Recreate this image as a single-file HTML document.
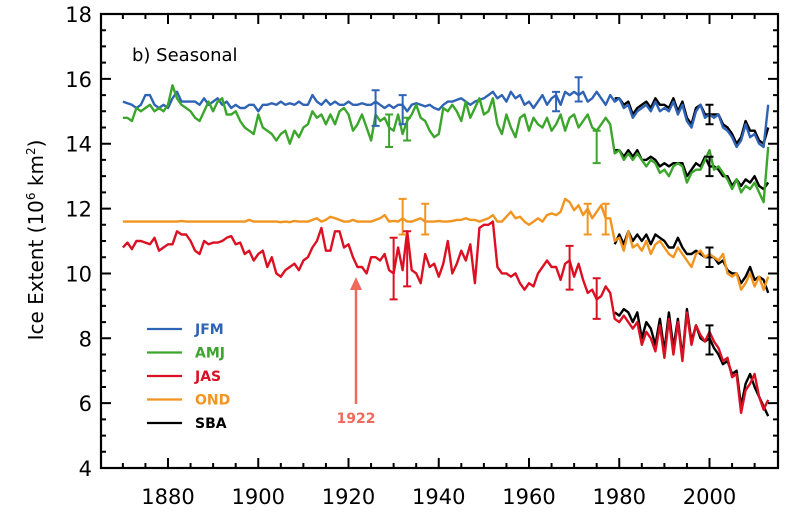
<!DOCTYPE html>
<html><head><meta charset="utf-8"><style>
body{margin:0;background:#fff;}
svg text{font-family:"DejaVu Sans","Liberation Sans",sans-serif;}
</style></head><body>
<svg id="chart" width="800" height="524" xmlns="http://www.w3.org/2000/svg">
<g id="plot"></g>
</svg>
<script>
const years=[];for(let y=1870;y<=2013;y++)years.push(y);
const sbaYears=[];for(let y=1979;y<=2013;y++)sbaYears.push(y);
const jfm=[15.3,15.25,15.2,15.1,15.2,15.5,15.5,15.2,15.1,15.2,
15.1,15.4,15.6,15.3,15.3,15.3,15.3,15.2,15.4,15.2,
15.3,15.4,15.2,15.3,15.1,15.2,15.1,15.1,15.2,15.2,
15.0,15.2,15.2,15.25,15.2,15.3,15.2,15.25,15.2,15.3,
15.2,15.2,15.5,15.3,15.2,15.35,15.2,15.3,15.2,15.2,
15.3,15.2,15.2,15.25,15.2,15.2,15.3,15.2,15.1,15.2,
15.1,15.2,15.2,15.0,15.2,15.25,15.2,15.15,15.2,15.1,
15.05,15.2,15.3,15.3,15.35,15.4,15.3,15.2,15.3,15.35,
15.4,15.5,15.6,15.4,15.5,15.3,15.6,15.4,15.5,15.2,
15.3,15.1,15.3,15.5,15.2,15.4,15.5,15.2,15.6,15.5,
15.6,15.5,15.6,15.3,15.4,15.6,15.4,15.2,15.5,15.3,
15.4,15.1,15.2,14.8,15.0,15.1,15.2,15.0,15.3,15.0,
15.1,15.0,15.3,14.9,15.2,14.7,14.5,15.0,15.2,14.8,
14.9,14.8,14.9,14.5,14.4,14.2,13.9,14.1,14.6,14.2,
14.3,14.0,13.9,15.2];
const amj=[14.8,14.8,14.7,15.1,15.0,15.1,15.2,15.0,15.1,15.0,
15.2,15.8,15.4,15.2,15.1,15.0,14.8,14.7,15.0,15.3,
15.0,15.3,15.4,14.9,14.9,15.0,14.7,14.5,14.4,14.3,
14.9,14.5,14.4,14.3,14.1,14.3,14.4,14.0,14.4,14.2,
14.5,14.6,15.0,14.8,14.9,14.6,14.9,14.6,15.0,15.1,
14.9,14.4,14.6,14.9,14.5,14.1,14.9,14.7,14.8,14.5,
14.4,14.9,14.3,14.7,14.9,15.2,14.8,14.7,14.4,14.2,
14.3,15.1,15.0,15.2,15.0,14.7,15.3,14.8,15.1,15.4,
14.9,15.0,15.4,14.6,14.3,14.9,14.5,14.2,14.8,14.9,
14.4,14.8,14.6,14.5,14.8,14.4,14.6,14.9,14.4,14.8,
14.9,14.5,14.7,14.9,14.5,14.4,14.6,14.8,14.6,13.7,
13.8,13.5,13.7,13.5,13.7,13.5,13.3,13.5,13.4,13.1,
13.2,13.0,13.3,13.4,13.3,12.8,13.1,13.2,13.2,13.5,
13.8,13.2,13.3,13.1,12.9,12.6,12.9,12.5,12.7,12.6,
12.8,12.5,12.2,13.9];
const jas=[10.8,10.95,10.75,11.0,11.0,10.95,10.9,11.1,10.7,10.8,
10.9,10.9,11.3,11.2,11.2,11.0,10.7,10.6,11.0,10.9,
10.95,10.95,11.0,11.1,11.15,10.9,10.95,10.6,10.7,10.4,
10.6,10.7,10.2,10.5,10.0,9.9,10.1,10.2,10.3,10.1,
10.4,10.5,10.8,11.0,11.4,10.7,10.7,11.3,11.3,10.8,
10.9,10.5,10.2,10.2,10.0,10.5,10.5,10.4,10.6,10.1,
10.0,10.8,10.1,11.3,10.1,10.0,9.7,10.6,10.2,10.3,
9.9,10.3,11.0,10.0,10.3,10.7,10.4,10.9,9.7,11.4,
11.5,11.5,11.6,10.2,10.0,10.0,9.9,10.0,9.7,9.5,
9.7,9.6,10.0,10.2,10.4,10.2,10.2,9.8,10.3,10.4,
9.9,10.3,9.8,9.4,9.5,9.2,9.3,9.6,9.4,8.6,
8.5,8.7,8.5,8.3,8.5,7.8,8.2,8.0,7.6,8.4,
7.4,8.6,7.5,8.5,7.3,8.8,7.8,8.4,8.1,7.9,
8.2,7.9,7.7,7.3,7.4,6.8,6.9,5.7,6.4,6.6,
6.9,6.2,5.8,6.1];
const ond=[11.6,11.6,11.6,11.6,11.6,11.6,11.6,11.6,11.6,11.6,
11.6,11.6,11.6,11.62,11.6,11.6,11.6,11.6,11.6,11.6,
11.6,11.6,11.6,11.6,11.6,11.6,11.6,11.6,11.65,11.6,
11.6,11.6,11.6,11.6,11.6,11.58,11.6,11.58,11.62,11.6,
11.6,11.6,11.65,11.7,11.6,11.65,11.75,11.7,11.65,11.6,
11.6,11.65,11.6,11.6,11.6,11.6,11.65,11.7,11.8,11.6,
11.62,11.6,11.7,11.6,11.6,11.65,11.7,11.6,11.6,11.6,
11.62,11.6,11.6,11.62,11.65,11.65,11.7,11.65,11.65,11.6,
11.65,11.7,11.8,11.6,11.6,11.75,11.9,11.7,11.75,11.6,
11.5,11.6,11.7,11.6,11.8,11.85,11.8,11.9,12.3,12.2,
11.95,12.1,11.8,12.0,11.7,11.9,12.1,11.7,11.7,11.0,
11.1,10.7,11.3,10.8,10.9,10.7,11.0,10.6,10.9,11.0,
10.8,10.6,10.5,10.8,10.6,10.4,10.2,10.6,10.7,10.5,
10.6,10.5,10.4,10.6,10.0,9.9,10.0,9.5,9.7,10.0,
9.6,9.9,9.5,9.9];
const sbaJfm=[15.4,15.4,15.2,15.3,14.9,15.1,15.2,15.3,15.1,15.4,15.2,15.2,15.1,15.4,15.0,15.3,14.8,14.6,15.1,15.2,14.9,14.9,14.9,14.9,14.6,14.5,14.3,14.0,14.2,14.7,14.4,14.4,14.1,14.0,14.5];
const sbaAmj=[13.8,13.8,13.6,13.8,13.6,13.8,13.5,13.5,13.6,13.5,13.3,13.4,13.3,13.4,13.4,13.4,13.0,13.2,13.4,13.3,13.6,13.3,13.3,13.2,13.0,13.0,12.7,12.9,12.7,12.9,12.8,13.0,12.7,12.6,12.8];
const sbaOnd=[10.9,11.2,10.9,11.3,11.0,11.2,11.0,11.2,10.9,11.2,11.1,11.0,10.8,10.8,11.1,10.8,10.6,10.6,10.7,10.6,10.5,10.5,10.5,10.3,10.4,10.1,10.0,10.0,9.7,9.9,10.2,9.8,9.9,9.8,9.4];
const sbaJas=[8.8,8.7,8.9,8.8,8.5,8.8,8.0,8.5,8.3,7.8,8.6,7.6,8.8,7.7,8.6,7.4,8.9,7.9,8.4,8.0,7.9,8.0,7.7,7.5,7.2,7.3,6.9,7.0,5.9,6.6,6.9,6.5,6.2,5.9,5.6];
const errYears=[1926,1932,1966,1971,1929,1933,1975,1932,1937,1973,1977,1930,1933,1969,1975,2000,2000,2000,2000];
const errLo=[14.55,14.6,15.0,15.3,13.9,14.1,13.4,11.2,11.2,11.2,11.2,9.2,9.6,9.5,8.6,14.6,13.0,10.2,7.5];
const errHi=[15.65,15.5,15.6,16.05,14.9,14.8,14.4,12.3,12.15,12.15,12.15,11.1,11.3,10.85,9.85,15.2,13.6,10.8,8.4];
const errSeries=["jfm","jfm","jfm","jfm","amj","amj","amj","ond","ond","ond","ond","jas","jas","jas","jas","sba","sba","sba","sba"];
const yTicks=[4,6,8,10,12,14,16,18];
const xTicks=[1880,1900,1920,1940,1960,1980,2000];
const legendLabels=["JFM","AMJ","JAS","OND","SBA"];

const C={jfm:"#2f63b6",amj:"#3ba52c",jas:"#dc1023",ond:"#f29420",sba:"#000"};
const L=101,R=778,T=14,B=468;
const X=y=>168+(y-1880)*90.25/20;
const Y=v=>14+(18-v)*32.43;
const NS="http://www.w3.org/2000/svg";
const svg=document.getElementById('chart');
function mk(tag,attrs,parent){const e=document.createElementNS(NS,tag);for(const k in attrs)e.setAttribute(k,attrs[k]);(parent||svg).appendChild(e);return e;}
function line(xs,vs,col,name){
  const d=xs.map((x,i)=>(i?'L':'M')+X(x).toFixed(1)+','+Y(vs[i]).toFixed(1)).join('');
  const p=mk('path',{d:d,fill:'none',stroke:col,'stroke-width':2.4,'stroke-linejoin':'round'});
  
  
}
line(sbaYears,sbaJfm,C.sba,'sba-jfm-line');
line(sbaYears,sbaAmj,C.sba,'sba-amj-line');
line(sbaYears,sbaOnd,C.sba,'sba-ond-line');
line(sbaYears,sbaJas,C.sba,'sba-jas-line');
line(years,jfm,C.jfm,'jfm-line');
line(years,amj,C.amj,'amj-line');
line(years,ond,C.ond,'ond-line');
line(years,jas,C.jas,'jas-line');
errYears.forEach((yr,i)=>{
  const x=X(yr),col=C[errSeries[i]];
  const g=mk('path',{d:`M${x-4},${Y(errHi[i])}H${x+4}M${x},${Y(errHi[i])}V${Y(errLo[i])}M${x-4},${Y(errLo[i])}H${x+4}`,stroke:col,'stroke-width':2,fill:'none'});
  
  
});
const fr=mk('rect',{x:L,y:T,width:R-L,height:B-T,fill:'none',stroke:'#000','stroke-width':2.2});


let td='';
for(let v=4;v<=18.001;v+=0.5){const y=Y(v),len=(Math.abs(v-Math.round(v/2)*2)<0.01)?10:5;td+=`M${L},${y}h${len}M${R},${y}h${-len}`;}
for(let yr=1870;yr<=2010;yr+=5){const x=X(yr),len=(yr%20===0)?10:5;td+=`M${x},${B}v${-len}M${x},${T}v${len}`;}
const tk=mk('path',{d:td,stroke:'#000','stroke-width':2});


yTicks.forEach(v=>{const t=mk('text',{x:92,y:Y(v)+8,'text-anchor':'end','font-size':21});t.textContent=v;

});
xTicks.forEach(v=>{const t=mk('text',{x:X(v),y:504,'text-anchor':'middle','font-size':21});t.textContent=v;

});
const yt=mk('text',{x:0,y:0,'text-anchor':'middle','font-size':20,transform:'translate(43,240) rotate(-90)'});
yt.innerHTML='Ice Extent  (10<tspan font-size="12" dy="-8">6</tspan><tspan dy="8"> km</tspan><tspan font-size="12" dy="-8">2</tspan><tspan dy="8">)</tspan>';


const ti=mk('text',{x:132,y:61,'font-size':18});ti.textContent='b)  Seasonal';


const lcol=[C.jfm,C.amj,C.jas,C.ond,C.sba];
legendLabels.forEach((lab,i)=>{const y=329+i*23.5;
  const l=mk('line',{x1:147,x2:182,y1:y,y2:y,stroke:lcol[i],'stroke-width':2.3});
  
  
  const t=mk('text',{x:195,y:y+5,'font-size':14,'font-weight':'bold',fill:lcol[i]});t.textContent=lab;
  
  });
const ar=mk('path',{d:'M356,404V288',stroke:'#f06a5c','stroke-width':2.5});


const ah=mk('path',{d:'M350,290L356,277L362,290Z',fill:'#f06a5c'});


const at=mk('text',{x:356,y:423,'text-anchor':'middle','font-size':14,'font-weight':'bold',fill:'#f06a5c'});at.textContent='1922';


</script>
</body></html>
